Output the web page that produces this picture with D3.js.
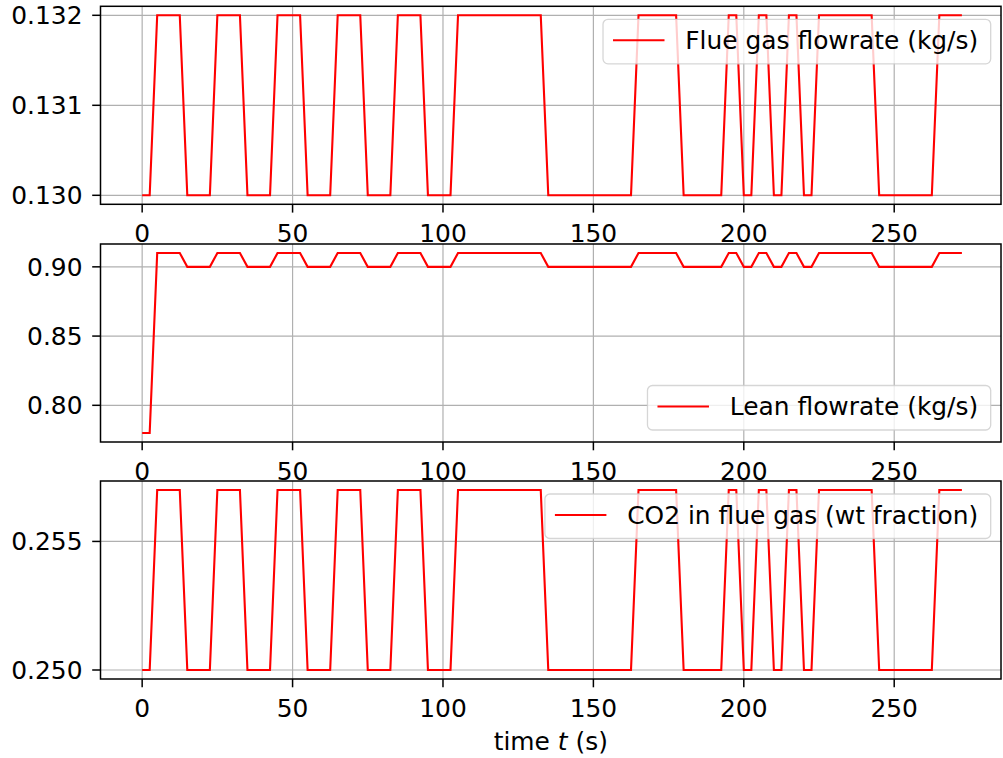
<!DOCTYPE html>
<html lang="en">
<head>
    <meta charset="UTF-8">
    <title>Flue gas / lean flowrate / CO2</title>
    <script src="https://d3js.org/d3.v7.min.js"></script>
    <style>
        body { margin: 0; background: #ffffff; }
        svg { display: block; }
        text { font-family: "DejaVu Sans", sans-serif; fill: #000000; }
    </style>
</head>
<body>
<svg id="chart" width="1003" height="758"></svg>
<script>
    // corner points of the three input signals (time in s)
    const times = [0, 2.5, 5, 12.5, 15, 22.5, 25, 32.5, 35, 42.5, 45, 52.5,
        55, 62.5, 65, 72.5, 75, 82.5, 85, 92.5, 95, 102.5, 105, 132.5,
        135, 162.5, 165, 177.5, 180, 192.5, 195, 197.5, 200, 202.5, 205, 207.5,
        210, 212.5, 215, 217.5, 220, 222.5, 225, 242.5, 245, 262.5, 265, 272.5];

    const flueGas = [0.130, 0.130, 0.132, 0.132, 0.130, 0.130, 0.132, 0.132, 0.130, 0.130, 0.132, 0.132,
        0.130, 0.130, 0.132, 0.132, 0.130, 0.130, 0.132, 0.132, 0.130, 0.130, 0.132, 0.132,
        0.130, 0.130, 0.132, 0.132, 0.130, 0.130, 0.132, 0.132, 0.130, 0.130, 0.132, 0.132,
        0.130, 0.130, 0.132, 0.132, 0.130, 0.130, 0.132, 0.132, 0.130, 0.130, 0.132, 0.132];

    const leanFlow = [0.78, 0.78, 0.91, 0.91, 0.90, 0.90, 0.91, 0.91, 0.90, 0.90, 0.91, 0.91,
        0.90, 0.90, 0.91, 0.91, 0.90, 0.90, 0.91, 0.91, 0.90, 0.90, 0.91, 0.91,
        0.90, 0.90, 0.91, 0.91, 0.90, 0.90, 0.91, 0.91, 0.90, 0.90, 0.91, 0.91,
        0.90, 0.90, 0.91, 0.91, 0.90, 0.90, 0.91, 0.91, 0.90, 0.90, 0.91, 0.91];

    const co2 = [0.250, 0.250, 0.257, 0.257, 0.250, 0.250, 0.257, 0.257, 0.250, 0.250, 0.257, 0.257,
        0.250, 0.250, 0.257, 0.257, 0.250, 0.250, 0.257, 0.257, 0.250, 0.250, 0.257, 0.257,
        0.250, 0.250, 0.257, 0.257, 0.250, 0.250, 0.257, 0.257, 0.250, 0.250, 0.257, 0.257,
        0.250, 0.250, 0.257, 0.257, 0.250, 0.250, 0.257, 0.257, 0.250, 0.250, 0.257, 0.257];

    const xTicks = [0, 50, 100, 150, 200, 250];
    const flueTicks = [0.130, 0.131, 0.132];
    const leanTicks = [0.80, 0.85, 0.90];
    const co2Ticks = [0.250, 0.255];

    const labels = ["Flue gas flowrate (kg/s)", "Lean flowrate (kg/s)", "CO2 in flue gas (wt fraction)"];

    const fontSize = 24.9;
    const axLeft = 100.5, axRight = 1001;
    const panelH = 198;
    const panelTops = [6.3, 244, 481];

    const svg = d3.select("#chart");

    // x scale: 0 -> 142.3 px, 250 -> 895 px
    const x = d3.scaleLinear().domain([-13.85, 285.5]).range([axLeft, axRight]);

    const panels = [
        { values: flueGas, ticks: flueTicks, fmt: d3.format(".3f"), label: labels[0], legendPos: "top" },
        { values: leanFlow, ticks: leanTicks, fmt: d3.format(".2f"), label: labels[1], legendPos: "bottom" },
        { values: co2, ticks: co2Ticks, fmt: d3.format(".3f"), label: labels[2], legendPos: "top" }
    ];

    panels.forEach((p, i) => {
        const top = panelTops[i];
        const bottom = top + panelH;
        const ext = d3.extent(p.values);
        const pad = (ext[1] - ext[0]) * 0.05;
        const y = d3.scaleLinear().domain([ext[0] - pad, ext[1] + pad]).range([bottom, top]);

        const g = svg.append("g");

        // grid
        g.selectAll(".vgrid").data(xTicks).enter().append("line")
            .attr("x1", d => x(d)).attr("x2", d => x(d))
            .attr("y1", top).attr("y2", bottom)
            .attr("stroke", "#b0b0b0").attr("stroke-width", 1.2);
        g.selectAll(".hgrid").data(p.ticks).enter().append("line")
            .attr("x1", axLeft).attr("x2", axRight)
            .attr("y1", d => y(d)).attr("y2", d => y(d))
            .attr("stroke", "#b0b0b0").attr("stroke-width", 1.2);

        // signal
        const line = d3.line().x(d => x(d[0])).y(d => y(d[1]));
        g.append("path")
            .datum(times.map((t, k) => [t, p.values[k]]))
            .attr("d", line)
            .attr("fill", "none")
            .attr("stroke", "#ff0000")
            .attr("stroke-width", 2.1)
            .attr("stroke-linejoin", "miter");

        // frame
        g.append("rect")
            .attr("x", axLeft).attr("y", top)
            .attr("width", axRight - axLeft).attr("height", panelH)
            .attr("fill", "none").attr("stroke", "#000").attr("stroke-width", 1.5);

        // x ticks
        g.selectAll(".xt").data(xTicks).enter().append("line")
            .attr("x1", d => x(d)).attr("x2", d => x(d))
            .attr("y1", bottom).attr("y2", bottom + 8.3)
            .attr("stroke", "#000").attr("stroke-width", 1.5);
        g.selectAll(".xl").data(xTicks).enter().append("text")
            .attr("x", d => x(d)).attr("y", bottom + 37.5)
            .attr("text-anchor", "middle")
            .style("font-size", fontSize + "px")
            .text(d => d);

        // y ticks
        g.selectAll(".yt").data(p.ticks).enter().append("line")
            .attr("x1", axLeft - 8.3).attr("x2", axLeft)
            .attr("y1", d => y(d)).attr("y2", d => y(d))
            .attr("stroke", "#000").attr("stroke-width", 1.5);
        g.selectAll(".yl").data(p.ticks).enter().append("text")
            .attr("x", 82.5).attr("y", d => y(d) + 9)
            .attr("text-anchor", "end")
            .style("font-size", fontSize + "px")
            .text(d => p.fmt(d));

        // legend
        const lg = g.append("g");
        const box = lg.append("rect");
        const txt = lg.append("text")
            .style("font-size", fontSize + "px")
            .text(p.label);
        const tw = txt.node().getComputedTextLength();
        const boxH = 44.5;
        const boxRight = axRight - 10.3;
        const boxLeft = boxRight - (10 + 51.5 + 20.8 + tw + 12.5);
        const boxTop = p.legendPos === "top" ? top + 13 : bottom - 12 - boxH;
        box.attr("x", boxLeft).attr("y", boxTop)
            .attr("width", boxRight - boxLeft).attr("height", boxH)
            .attr("rx", 5).attr("ry", 5)
            .attr("fill", "#ffffff").attr("fill-opacity", 0.8)
            .attr("stroke", "#cccccc").attr("stroke-opacity", 0.8).attr("stroke-width", 1.3);
        const ly = boxTop + 21;
        lg.append("line")
            .attr("x1", boxLeft + 10).attr("x2", boxLeft + 61.5)
            .attr("y1", ly).attr("y2", ly)
            .attr("stroke", "#ff0000").attr("stroke-width", 2.1);
        txt.attr("x", boxLeft + 82.3).attr("y", ly + 8.6);
        txt.raise();
    });

    // x axis label
    const xl = svg.append("text")
        .attr("x", (axLeft + axRight) / 2)
        .attr("y", 750)
        .attr("text-anchor", "middle")
        .style("font-size", fontSize + "px");
    xl.append("tspan").text("time ");
    xl.append("tspan").style("font-style", "italic").text("t");
    xl.append("tspan").text(" (s)");
</script>
</body>
</html>
